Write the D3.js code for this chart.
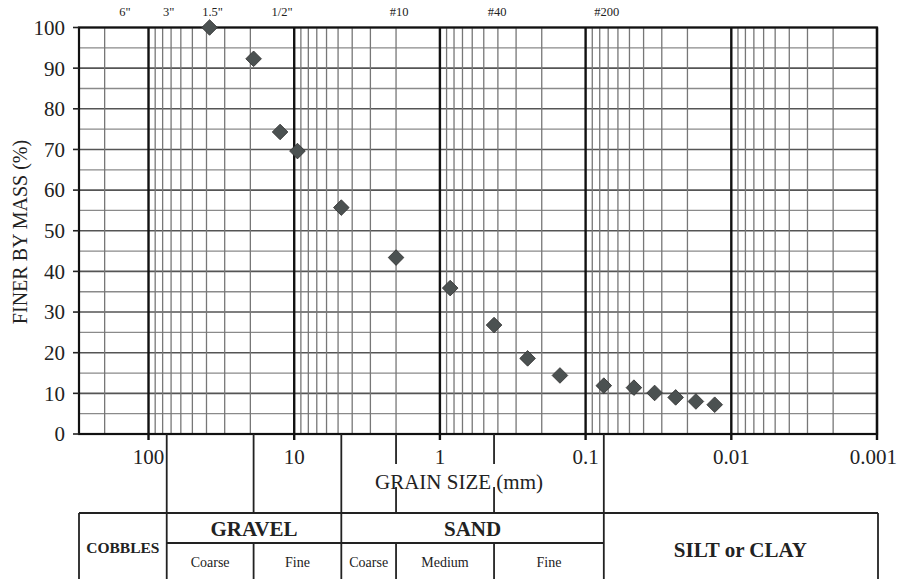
<!DOCTYPE html>
<html>
<head>
<meta charset="utf-8">
<script src="https://cdn.jsdelivr.net/npm/d3@7"></script>
<style>
  html, body { margin: 0; padding: 0; background: #fff; }
  svg { display: block; }
  text { font-family: "Liberation Serif", "Times New Roman", serif; fill: #222; }
</style>
</head>
<body>
<svg id="chart" width="899" height="579"></svg>
<script>
// ---- data ----
const grainSizes   = [38.1, 19, 12.5, 9.5, 4.75, 2.0, 0.85, 0.425, 0.25, 0.15, 0.075, 0.0466, 0.0336, 0.0241, 0.0175, 0.013];
const percentFiner = [100, 92.3, 74.3, 69.6, 55.7, 43.4, 35.9, 26.8, 18.6, 14.4, 11.9, 11.4, 10.1, 9.0, 8.0, 7.2];

const xTickValues = [100, 10, 1, 0.1, 0.01, 0.001];
const xTickLabels = ["100", "10", "1", "0.1", "0.01", "0.001"];
const yTickValues = [0, 10, 20, 30, 40, 50, 60, 70, 80, 90, 100];

const sieveLabels = ['6"', '3"', '1.5"', '1/2"', '#10', '#40', '#200'];
const sieveSizes  = [152.4, 76.2, 38.1, 12.7, 2.0, 0.425, 0.075];

// classification boundaries (mm)
const bCobbleGravel = 75, bGravelCF = 19, bGravelSand = 4.75, bSandCM = 2.0, bSandMF = 0.425, bSandFines = 0.075;
const mainClasses = ["COBBLES", "GRAVEL", "SAND", "SILT or CLAY"];
const subClasses  = ["Coarse", "Fine", "Coarse", "Medium", "Fine"];

// ---- layout ----
const svg = d3.select("#chart");
const L = 79, R = 877, T = 27.5, B = 434;
const x = d3.scaleLog().domain([300, 0.001]).range([L, R]);
const y = d3.scaleLinear().domain([0, 100]).range([B, T]);

const isMajor = v => Math.abs(Math.log10(v) - Math.round(Math.log10(v))) < 1e-9;

// horizontal grid
const g = svg.append("g");
d3.range(0, 101, 5).forEach(v => {
  g.append("line").attr("x1", L).attr("x2", R).attr("y1", y(v)).attr("y2", y(v))
    .attr("stroke", v % 10 === 0 ? "#555" : "#8a8a8a")
    .attr("stroke-width", v % 10 === 0 ? 1.6 : 1.3);
});
// vertical minor grid
x.ticks().filter(v => !isMajor(v) && v <= 300 && v >= 0.001).forEach(v => {
  g.append("line").attr("x1", x(v)).attr("x2", x(v)).attr("y1", T).attr("y2", B)
    .attr("stroke", "#777").attr("stroke-width", 1.3);
});
// major decade lines
xTickValues.forEach(v => {
  g.append("line").attr("x1", x(v)).attr("x2", x(v)).attr("y1", T).attr("y2", B + 6)
    .attr("stroke", "#111").attr("stroke-width", 2.4);
});
// border
g.append("rect").attr("x", L).attr("y", T).attr("width", R - L).attr("height", B - T)
  .attr("fill", "none").attr("stroke", "#111").attr("stroke-width", 2.2);

// y ticks
yTickValues.forEach(v => {
  g.append("line").attr("x1", L - 6).attr("x2", L).attr("y1", y(v)).attr("y2", y(v))
    .attr("stroke", "#222").attr("stroke-width", 1.6);
  svg.append("text").attr("x", 65).attr("y", y(v)).attr("dy", "0.35em")
    .attr("text-anchor", "end").attr("font-size", 21).text(v);
});

// x tick labels
xTickValues.forEach((v, i) => {
  const last = i === xTickValues.length - 1;
  svg.append("text").attr("x", last ? 897 : x(v)).attr("y", 464)
    .attr("text-anchor", last ? "end" : "middle").attr("font-size", 21).text(xTickLabels[i]);
});

// sieve labels on top
sieveSizes.forEach((v, i) => {
  svg.append("text").attr("x", x(v) + 3).attr("y", 16)
    .attr("text-anchor", "middle").attr("font-size", 12.5).text(sieveLabels[i]);
});

// axis titles
svg.append("text").attr("x", 459).attr("y", 489).attr("text-anchor", "middle")
  .attr("font-size", 21).text("GRAIN SIZE (mm)");
svg.append("text").attr("transform", "translate(27,232) rotate(-90)")
  .attr("text-anchor", "middle").attr("font-size", 20).text("FINER BY MASS  (%)");

// ---- classification table ----
const tb = svg.append("g").attr("stroke", "#222").attr("stroke-width", 1.8);
const TT = 513, TM = 543, TB = 590;
const vline = (xx, y1, y2) => tb.append("line").attr("x1", xx).attr("x2", xx).attr("y1", y1).attr("y2", y2);
const hline = (x1, x2, yy) => tb.append("line").attr("x1", x1).attr("x2", x2).attr("y1", yy).attr("y2", yy);

hline(L, R + 1, TT);
hline(x(bCobbleGravel), x(bSandFines), TM);
vline(L, TT, TB);
vline(R + 1, TT, TB);
vline(x(bCobbleGravel), B, TB);
vline(x(bGravelCF), B, TT); vline(x(bGravelCF), TM, TB);
vline(x(bGravelSand), B, TB);
[bSandCM, bSandMF].forEach(v => {
  vline(x(v), B, 464); vline(x(v), 487, TT); vline(x(v), TM, TB);
});
vline(x(bSandFines), B, TB);

const mid = (a, b) => (a + b) / 2;
const cx = [mid(L, x(bCobbleGravel)), mid(x(bCobbleGravel), x(bGravelSand)),
            mid(x(bGravelSand), x(bSandFines)), mid(x(bSandFines), R)];
svg.append("text").attr("x", cx[0]).attr("y", 553).attr("text-anchor", "middle")
  .attr("font-size", 15.5).attr("font-weight", "bold").text(mainClasses[0]);
svg.append("text").attr("x", cx[1]).attr("y", 536).attr("text-anchor", "middle")
  .attr("font-size", 21).attr("font-weight", "bold").text(mainClasses[1]);
svg.append("text").attr("x", cx[2]).attr("y", 536).attr("text-anchor", "middle")
  .attr("font-size", 21).attr("font-weight", "bold").text(mainClasses[2]);
svg.append("text").attr("x", cx[3]).attr("y", 557).attr("text-anchor", "middle")
  .attr("font-size", 21).attr("font-weight", "bold").text(mainClasses[3]);

const subB = [bCobbleGravel, bGravelCF, bGravelSand, bSandCM, bSandMF, bSandFines];
subClasses.forEach((s, i) => {
  svg.append("text").attr("x", mid(x(subB[i]), x(subB[i + 1]))).attr("y", 567)
    .attr("text-anchor", "middle").attr("font-size", 14).text(s);
});

// ---- data points ----
const pts = grainSizes.map((d, i) => ({ d, p: percentFiner[i] }));
svg.append("g").selectAll("path").data(pts).enter().append("path")
  .attr("d", d3.symbol().type(d3.symbolSquare).size(122))
  .attr("transform", d => `translate(${x(d.d)},${y(d.p)}) rotate(45)`)
  .attr("fill", "#4b5151").attr("stroke", "#333").attr("stroke-width", 0.8);
</script>
</body>
</html>
